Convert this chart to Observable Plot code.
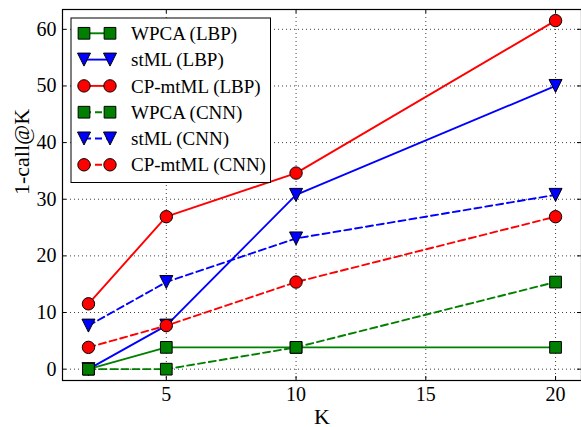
<!DOCTYPE html>
<html>
<head>
<meta charset="utf-8">
<script src="https://cdn.jsdelivr.net/npm/d3@7"></script>
<script src="https://cdn.jsdelivr.net/npm/@observablehq/plot@0.6"></script>
<style>
  html, body { margin: 0; padding: 0; background: #fff; }
</style>
</head>
<body>
<div id="chart"></div>
<script>
// ---- data ----
const K = [2, 5, 10, 20];
const seriesNames = ["WPCA (LBP)", "stML (LBP)", "CP-mtML (LBP)", "WPCA (CNN)", "stML (CNN)", "CP-mtML (CNN)"];
const wpcaLBP = [0, 3.85, 3.85, 3.85];
const stmlLBP = [0, 7.69, 30.77, 50.0];
const cpmtmlLBP = [11.54, 26.92, 34.62, 61.54];
const wpcaCNN = [0, 0, 3.85, 15.38];
const stmlCNN = [7.69, 15.38, 23.08, 30.77];
const cpmtmlCNN = [3.85, 7.69, 15.38, 26.92];
const xTicks = [5, 10, 15, 20];
const yTicks = [0, 10, 20, 30, 40, 50, 60];
const xLabel = "K";
const yLabel = "1-call@K";

const seriesValues = [wpcaLBP, stmlLBP, cpmtmlLBP, wpcaCNN, stmlCNN, cpmtmlCNN];

// ---- styles ----
const triDown = {
  draw(ctx, size) {
    const r = Math.sqrt(size / Math.PI);
    ctx.moveTo(-r, -r);
    ctx.lineTo(r, -r);
    ctx.lineTo(0, r);
    ctx.closePath();
  }
};
const colors = ["#008000", "#0000ff", "#ff0000", "#008000", "#0000ff", "#ff0000"];
const symbols = [d3.symbolSquare, triDown, d3.symbolCircle, d3.symbolSquare, triDown, d3.symbolCircle];
const radii = [6.6, 6.5, 6.2, 6.6, 6.5, 6.2];
const dashes = [null, null, null, "7,4", "7,4", "7,4"];

const W = 581, H = 427;
const mL = 62, mR = 0, mT = 9, mB = 47;
const plotH = H - mT - mB;

const rows = [];
seriesValues.forEach((vals, s) => vals.forEach((v, i) => rows.push({series: s, K: K[i], v})));

const marks = [
  Plot.gridX(xTicks, {stroke: "#000", strokeOpacity: 0.75, strokeDasharray: "1,3", strokeWidth: 1}),
  Plot.gridY(yTicks, {stroke: "#000", strokeOpacity: 0.75, strokeDasharray: "1,3", strokeWidth: 1}),
  Plot.tickX(xTicks, {x: d => d, insetTop: plotH - 4, stroke: "#000"}),
  Plot.tickX(xTicks, {x: d => d, insetBottom: plotH - 4, stroke: "#000"}),
  Plot.tickY(yTicks, {y: d => d, insetRight: W - mL - mR - 4, stroke: "#000"}),
  Plot.tickY(yTicks, {y: d => d, insetLeft: W - mL - mR - 4, stroke: "#000"}),
  Plot.axisX(xTicks, {tickSize: 0, tickPadding: 6, label: null, ariaLabel: "xticks"}),
  Plot.axisY(yTicks, {tickSize: 0, tickPadding: 6, label: null, ariaLabel: "yticks"}),
  Plot.text([xLabel], {frameAnchor: "bottom", dy: 36, fontSize: 22, lineAnchor: "middle"}),
  Plot.text([yLabel], {frameAnchor: "left", dx: -41, rotate: -90, fontSize: 22, lineAnchor: "middle"})
];

seriesNames.forEach((name, s) => {
  const data = rows.filter(d => d.series === s);
  marks.push(Plot.line(data, {x: "K", y: "v", stroke: colors[s], strokeWidth: 1.9, strokeDasharray: dashes[s] || undefined}));
  marks.push(Plot.dot(data, {x: "K", y: "v", symbol: symbols[s], r: radii[s], fill: colors[s], stroke: "#000", strokeWidth: 1}));
});

marks.push(Plot.frame({stroke: "#000", strokeWidth: 1.2}));

const chart = Plot.plot({
  width: W,
  height: H,
  marginLeft: mL,
  marginRight: mR,
  marginTop: mT,
  marginBottom: mB,
  x: {domain: [1, 21], axis: null},
  y: {domain: [-2, 63.5], axis: null},
  style: {fontFamily: "'Liberation Serif', 'DejaVu Serif', serif", fontSize: "20px", color: "#000", background: "#fff"},
  marks
});

document.getElementById("chart").appendChild(chart);

const svg = d3.select(chart);
// enlarge tick labels
svg.selectAll("g[aria-label='xticks'], g[aria-label='yticks']").each(function() {
  d3.select(this).attr("font-size", 20).style("font-size", "20px");
  d3.select(this).selectAll("text").attr("font-size", 20).style("font-size", "20px");
});

// ---- legend ----
const lg = svg.append("g").attr("text-anchor", "start");
lg.append("rect").attr("x", 71).attr("y", 18).attr("width", 199.5).attr("height", 164.5)
  .attr("fill", "#fff").attr("stroke", "#000").attr("stroke-width", 1);
seriesNames.forEach((name, s) => {
  const y = 33.3 + s * 26.3;
  lg.append("line").attr("x1", 84).attr("x2", 110).attr("y1", y).attr("y2", y)
    .attr("stroke", colors[s]).attr("stroke-width", 1.9)
    .attr("stroke-dasharray", dashes[s]);
  [84, 110].forEach(x => {
    lg.append("path")
      .attr("d", d3.symbol().type(symbols[s]).size(Math.PI * radii[s] * radii[s])())
      .attr("transform", `translate(${x},${y})`)
      .attr("fill", colors[s]).attr("stroke", "#000").attr("stroke-width", 1);
  });
  lg.append("text").attr("x", 131).attr("y", y).attr("dy", "0.35em")
    .attr("text-anchor", "start")
    .style("font-size", "19px").attr("fill", "#000").text(name);
});
</script>
</body>
</html>
